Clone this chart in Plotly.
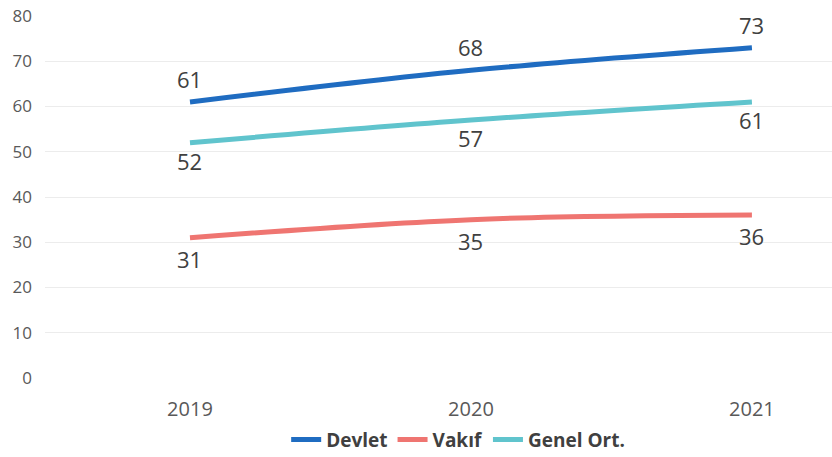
import plotly.graph_objects as go

years = ["2019", "2020", "2021"]
devlet = [61, 68, 73]
vakif = [31, 35, 36]
genel = [52, 57, 61]
y_ticks = [0, 10, 20, 30, 40, 50, 60, 70, 80]

FONT = "Open Sans"
fig = go.Figure()
series = [
    ("Devlet", devlet, "#1f6cc1", 23),
    ("Vakıf", vakif, "#ef7571", -21),
    ("Genel Ort.", genel, "#60c4cd", -18),
]
for name, vals, col, shift in series:
    fig.add_trace(go.Scatter(
        x=years, y=vals, name=name, mode="lines",
        line=dict(color=col, width=5, shape="spline"),
    ))
    for i, yv in enumerate(vals):
        fig.add_annotation(x=i, y=yv, text=str(yv), showarrow=False,
                           yshift=shift, xanchor="center", yanchor="middle",
                           font=dict(family=FONT, size=22, color="#404040"))

fig.update_layout(
    width=832, height=457,
    margin=dict(l=45, r=0, t=16, b=79, autoexpand=False),
    plot_bgcolor="white", paper_bgcolor="white",
    font=dict(family=FONT, color="#595959"),
    xaxis=dict(type="category", range=[-0.516, 2.285], showgrid=False,
               showline=False, zeroline=False, ticks="", automargin=False,
               ticklabelstandoff=17,
               tickfont=dict(size=20, color="#595959")),
    yaxis=dict(range=[0, 80], tickvals=y_ticks, showgrid=True,
               gridcolor="#ececec", gridwidth=1, zeroline=False,
               showline=False, ticks="", ticklabelstandoff=12, automargin=False,
               tickfont=dict(size=17, color="#595959")),
    legend=dict(orientation="h", x=0.525, xanchor="center", y=-0.118,
                yanchor="top", font=dict(family=FONT, size=19, color="#404040",
                                         weight="bold"),
                itemwidth=30, tracegroupgap=0),
    showlegend=True,
)
fig.write_html("out.html", config={"displayModeBar": False},
               post_script="document.body.style.margin='0';")
